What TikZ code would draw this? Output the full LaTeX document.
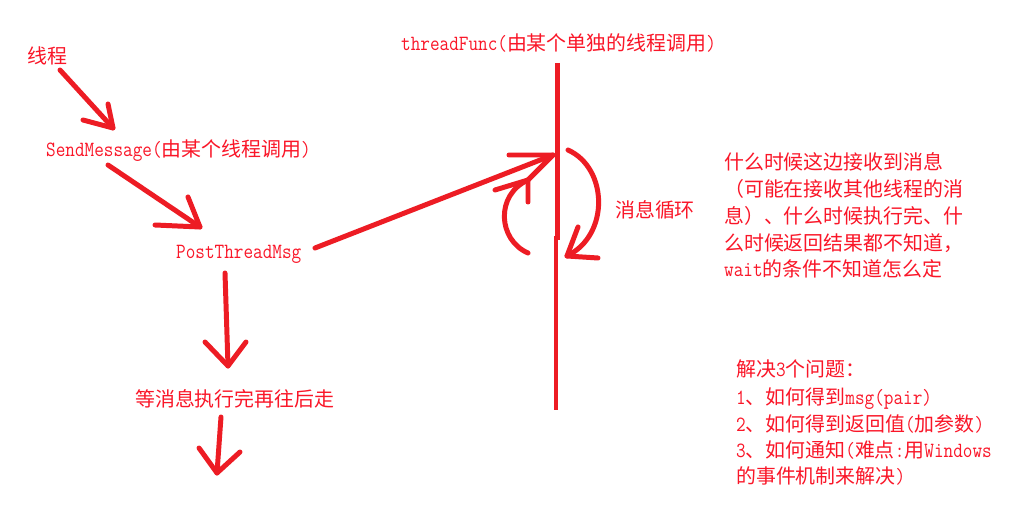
\documentclass[tikz,border=0pt]{standalone}
\usepackage{fontspec}
\setmainfont[FakeStretch=0.86]{Latin Modern Mono}
\newfontfamily\cjk{Noto Sans CJK SC}
\definecolor{ink}{RGB}{237,28,36}
\definecolor{txt}{RGB}{250,22,40}
\newcommand{\zh}[1]{{\cjk\fontsize{20}{24}\selectfont #1}}
\tikzset{
  lbl/.style={anchor=base west, inner sep=0pt, text=txt, font=\fontsize{21.8}{24}\selectfont},
  pen/.style={draw=ink, line width=5pt, line cap=round, line join=round}
}
\begin{document}
\begin{tikzpicture}[x=1bp,y=-1bp]
\fill[white] (0,0) rectangle (1012,508);
\useasboundingbox (0,0) rectangle (1012,508);

% texts
\node[lbl] (thread) at (27,64) {\zh{线程}};
\node[lbl] (send) at (46,157) {SendMessage(\zh{由某个线程调用})};
\node[lbl] (post) at (176,259) {PostThreadMsg};
\node[lbl] (wait) at (135,406) {\zh{等消息执行完再往后走}};
\node[lbl] (func) at (401,51) {threadFunc(\zh{由某个单独的线程调用})};
\node[lbl] (loop) at (615,218) {\zh{消息循环}};

\node[lbl] (r1) at (724,170) {\zh{什么时候这边接收到消息}};
\node[lbl] (r2) at (724,197) {\zh{（可能在接收其他线程的消}};
\node[lbl] (r3) at (724,224) {\zh{息）、什么时候执行完、什}};
\node[lbl] (r4) at (724,251) {\zh{么时候返回结果都不知道，}};
\node[lbl] (r5) at (724,277) {wait\zh{的条件不知道怎么定}};

\node[lbl] (s1) at (736,377) {\zh{解决}3\zh{个问题：}};
\node[lbl] (s2) at (736,404) {1\zh{、如何得到}msg(pair)};
\node[lbl] (s3) at (736,431) {2\zh{、如何得到返回值}(\zh{加参数})};
\node[lbl] (s4) at (736,457) {3\zh{、如何通知}(\zh{难点}:\zh{用}Windows};
\node[lbl] (s5) at (736,483) {\zh{的事件机制来解决})};

% arrow thread -> SendMessage
\coordinate (a1s) at (60,70);
\coordinate (a1t) at (113,128);
\coordinate (a1h1) at (83,120);
\coordinate (a1h2) at (108,104);
\draw[pen] (a1s) -- (a1t);
\draw[pen] (a1h1) -- (a1t) -- (a1h2);

% arrow SendMessage -> PostThreadMsg
\coordinate (a2s) at (108,165);
\coordinate (a2t) at (200,227);
\coordinate (a2h1) at (155,225);
\coordinate (a2h2) at (188,197);
\draw[pen] (a2s) -- (a2t);
\draw[pen] (a2h1) -- (a2t) -- (a2h2);

% arrow PostThreadMsg -> threadFunc line
\coordinate (a3s) at (315,248);
\coordinate (a3t) at (553,155);
\coordinate (a3h1) at (509,155);
\coordinate (a3h2) at (528,180);
\draw[pen] (a3s) -- (a3t);
\draw[pen] (a3h1) -- (a3t) -- (a3h2);

% thread timeline (slight hand-drawn jog)
\coordinate (v1) at (557.5,63);
\coordinate (v2) at (557.5,240);
\coordinate (v3) at (556,236);
\coordinate (v4) at (556,410);
\draw[pen, line cap=butt] (v1) -- (v2);
\draw[pen, line cap=butt] (v3) -- (v4);

% left curl (up)
\coordinate (c1s) at (528,253);
\coordinate (c1t) at (528,180);
\coordinate (c1h1) at (495,190);
\coordinate (c1h2) at (528,202);
\draw[pen] (c1s) .. controls (498,240) and (495,195) .. (c1t);
\draw[pen] (c1h1) -- (c1t) -- (c1h2);

% right curl (down)
\coordinate (c2s) at (568,150);
\coordinate (c2t) at (567,256);
\coordinate (c2h1) at (578,227);
\coordinate (c2h2) at (598,258);
\draw[pen] (c2s) .. controls (608,168) and (610,235) .. (c2t);
\draw[pen] (c2h1) -- (c2t) -- (c2h2);

% arrow PostThreadMsg -> wait
\coordinate (a4s) at (225,273);
\coordinate (a4t) at (228,366);
\coordinate (a4h1) at (205,342);
\coordinate (a4h2) at (246,342);
\draw[pen] (a4s) -- (a4t);
\draw[pen] (a4h1) -- (a4t) -- (a4h2);

% arrow below wait
\coordinate (a5s) at (221,417);
\coordinate (a5t) at (217,473);
\coordinate (a5h1) at (199,448);
\coordinate (a5h2) at (240,452);
\draw[pen] (a5s) -- (a5t);
\draw[pen] (a5h1) -- (a5t) -- (a5h2);
\end{tikzpicture}
\end{document}
